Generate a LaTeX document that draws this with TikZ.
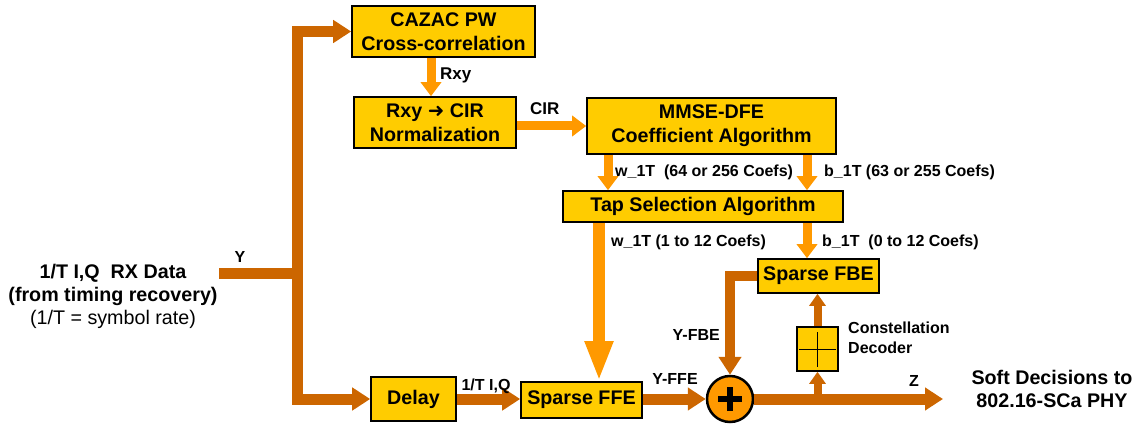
\documentclass[tikz,border=0pt]{standalone}
\usepackage{fontspec}
\setmainfont{Liberation Sans}
\newfontfamily\symfont{DejaVu Sans}
\usepackage{tikz}
\usetikzlibrary{arrows.meta, positioning, calc}
\definecolor{boxgold}{RGB}{255,204,0}
\definecolor{darkor}{RGB}{204,102,0}
\definecolor{lightor}{RGB}{255,153,0}

\begin{document}
\begin{tikzpicture}[
    x=1pt, y=-1pt,
    box/.style={draw, line width=1.6pt, fill=boxgold, inner sep=0pt, align=center, font=\bfseries\fontsize{19.7}{24}\selectfont},
    dflow/.style={color=darkor, line width=11pt, -{Triangle[length=18pt,width=22pt]}},
    lflow/.style={color=lightor, line width=9pt, -{Triangle[length=14pt,width=20pt]}},
    lbl/.style={font=\bfseries\fontsize{16}{20}\selectfont, inner sep=0pt},
    big/.style={font=\fontsize{19.7}{23}\selectfont, align=center, inner sep=0pt}
]
    \useasboundingbox (0,0) rectangle (1141,425);
    % blocks
    \node[box, minimum width=183pt, minimum height=51pt] (cazac) at (443.5,31.5) {CAZAC PW\\Cross-correlation};
    \node[box, minimum width=162pt, minimum height=51pt] (norm) at (435,122.5) {Rxy {\symfont\mdseries ➜} CIR\\Normalization};
    \node[box, minimum width=249pt, minimum height=56pt] (mmse) at (711.5,126) {MMSE-DFE\\Coefficient Algorithm};
    \node[box, minimum width=280pt, minimum height=31pt] (tapsel) at (703,206.5) {Tap Selection Algorithm};
    \node[box, minimum width=121pt, minimum height=34pt] (fbe) at (818.5,276) {Sparse FBE};
    \node[box, minimum width=41pt, minimum height=44pt] (cdec) at (817.5,349) {};
    \node[box, minimum width=85pt, minimum height=44pt] (delay) at (413.5,399) {Delay};
    \node[box, minimum width=121pt, minimum height=36pt] (ffe) at (581.5,400) {Sparse FFE};
    \node[circle, draw, line width=2.5pt, fill=lightor, minimum size=46pt, inner sep=0pt] (adder) at (730,399) {};
    \draw[line width=6.5pt] ([xshift=-12pt]adder.center) -- ([xshift=12pt]adder.center);
    \draw[line width=6.5pt] ([yshift=-12pt]adder.center) -- ([yshift=12pt]adder.center);
    \draw[line width=0.9pt] ([xshift=3pt]cdec.west) -- ([xshift=-3pt]cdec.east);
    \draw[line width=0.9pt] ([yshift=-6pt]cdec.north) -- ([yshift=5pt]cdec.south);

    % input bus
    \coordinate (yin) at (219,273);
    \coordinate (bus) at (297,273);
    \draw[color=darkor, line width=11pt] (yin) -- (bus);
    \draw[dflow] (bus) |- (cazac.west);
    \draw[dflow] (bus) |- (delay.west);

    % coefficient paths
    \draw[lflow] ([xshift=-12.5pt]cazac.south) -- ([xshift=-12.5pt]cazac.south |- norm.north);
    \draw[lflow] (mmse.west -| norm.east) -- (mmse.west);
    \draw[lflow] ([xshift=-103.5pt]mmse.south) -- ([xshift=-103.5pt]mmse.south |- tapsel.north);
    \draw[lflow] ([xshift=95.5pt]mmse.south) -- ([xshift=95.5pt]mmse.south |- tapsel.north);
    \draw[lflow, line width=12pt, -{Triangle[length=40pt,width=26pt]}] ([xshift=-104pt]tapsel.south) -- ([xshift=-104pt]tapsel.south |- ffe.north);
    \draw[lflow] ([xshift=104pt]tapsel.south) -- ([xshift=104pt]tapsel.south |- fbe.north);

    % data path
    \draw[dflow] (delay.east) -- (delay.east -| ffe.west);
    \draw[dflow] (adder.west -| ffe.east) -- (adder.west);
    \draw[dflow, line width=10pt] (fbe.west) -| (adder.north);
    \coordinate (zend) at (943,399);
    \draw[dflow] (adder.east) -- (zend);
    \coordinate (brch) at (cdec.south |- adder.east);
    \draw[dflow, line width=8pt, -{Triangle[length=12pt,width=16pt]}] (brch) -- (cdec.south);
    \draw[dflow, line width=8pt, -{Triangle[length=12pt,width=16pt]}] (cdec.north) -- (cdec.north |- fbe.south);

    % labels
    \node[lbl, font=\bfseries\fontsize{17}{20}\selectfont, anchor=base west] (rxylbl) at (440,80) {Rxy};
    \node[lbl, font=\bfseries\fontsize{17}{20}\selectfont, anchor=base west] (cirlbl) at (530,115) {CIR};
    \node[lbl, anchor=base west] (wlbl) at (615,177) {w\_1T\ \ (64 or 256 Coefs)};
    \node[lbl, anchor=base west] (blbl) at (824,177) {b\_1T (63 or 255 Coefs)};
    \node[lbl, anchor=base west] (wsel) at (611,246) {w\_1T (1 to 12 Coefs)};
    \node[lbl, anchor=base west] (bsel) at (822,246) {b\_1T\ \ (0 to 12 Coefs)};
    \node[lbl, anchor=base east] (yfbe) at (720,340) {Y-FBE};
    \node[lbl, anchor=west, align=left] (cdeclbl) at (848,338) {Constellation\\Decoder};
    \node[lbl, anchor=base] (ylbl) at (240,262) {Y};
    \node[lbl, anchor=base] (yffe) at (675,384) {Y-FFE};
    \node[lbl, anchor=base] (iqlbl) at (486,390) {1/T I,Q};
    \node[lbl, anchor=base] (zlbl) at (914,386) {Z};
    \node[big] (rxdata) at (113,296) {\textbf{1/T I,Q\ \ RX Data}\\\textbf{(from timing recovery)}\\(1/T = symbol rate)};
    \node[big] (soft) at (1052,389) {\textbf{Soft Decisions to}\\\textbf{802.16-SCa PHY}};
\end{tikzpicture}
\end{document}
